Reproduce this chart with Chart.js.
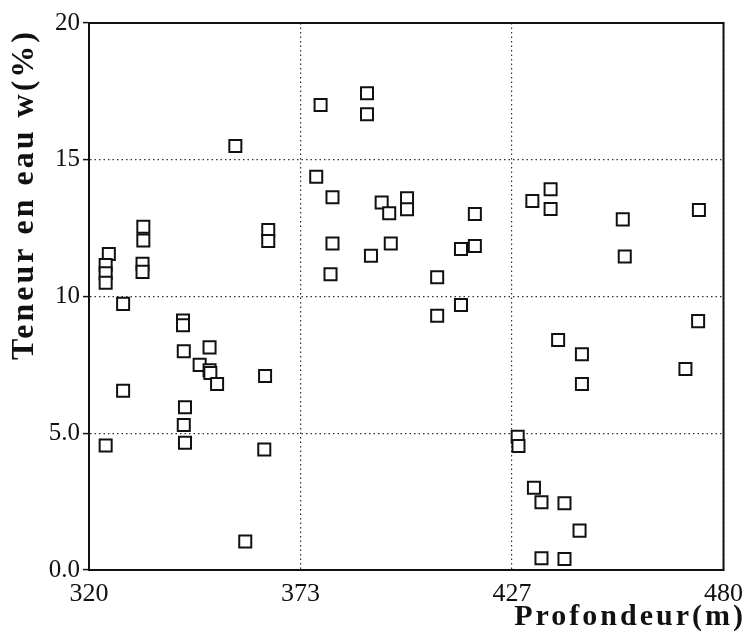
<!DOCTYPE html>
<html>
<head>
<meta charset="utf-8">
<script src="https://cdn.jsdelivr.net/npm/chart.js@4"></script>
<style>
  body { margin: 0; background: #fff; }
</style>
</head>
<body>
<canvas id="waterChart" width="752" height="638"></canvas>
<script>
// depth (m) and water content (%)
const depth = [
  325.0, 324.2, 324.2, 324.2, 324.2, 328.6, 328.6, 333.7, 333.7, 333.5,
  333.5, 343.7, 343.7, 343.9, 350.4, 347.9, 350.4, 350.6, 352.3, 344.2,
  343.9, 344.2, 364.4, 364.2, 359.4, 356.9, 365.2, 365.2,
  378.4, 390.1, 390.1, 377.3, 381.4, 381.4, 393.8, 395.7, 400.2, 400.2,
  417.3, 417.3, 396.1, 391.1, 413.8, 413.8, 380.9, 407.8, 407.8,
  436.4, 436.4, 431.8, 454.6, 455.1, 473.8, 473.6, 470.4, 438.3, 444.3,
  444.3, 428.1, 428.3, 432.2, 434.1, 434.1, 439.9, 439.9, 443.7
];
const water = [
  11.55, 11.15, 10.85, 10.5, 4.55, 9.73, 6.55, 12.55, 12.05, 11.2,
  10.9, 9.12, 8.95, 8.0, 8.14, 7.5, 7.3, 7.2, 6.8, 5.95,
  5.3, 4.65, 7.09, 4.41, 1.04, 15.5, 12.43, 12.03,
  17.0, 17.43, 16.66, 14.38, 13.63, 11.94, 13.44, 13.04, 13.59, 13.19,
  13.02, 11.85, 11.94, 11.49, 11.74, 9.69, 10.81, 10.7, 9.3,
  13.92, 13.2, 13.49, 12.82, 11.46, 13.16, 9.1, 7.35, 8.41, 7.89,
  6.8, 4.87, 4.53, 3.01, 2.48, 0.43, 2.44, 0.4, 1.44
];

const xTickValues = [320, 1120 / 3, 1280 / 3, 480];
const xTickLabels = ['320', '373', '427', '480'];
const yTickLabels = ['0.0', '5.0', '10', '15', '20'];

const points = depth.map((d, i) => ({ x: d, y: water[i] }));

// frame and axis titles, drawn with letter spacing like the print
const framePlugin = {
  id: 'frame',
  afterDraw(chart) {
    const { ctx, chartArea: a } = chart;
    ctx.save();
    ctx.strokeStyle = '#111';
    ctx.lineWidth = 2;
    ctx.strokeRect(a.left, a.top, a.right - a.left, a.bottom - a.top);

    ctx.fillStyle = '#111';
    ctx.font = 'bold 30px "Liberation Serif", "DejaVu Serif", serif';
    ctx.letterSpacing = '3px';
    ctx.textAlign = 'right';
    ctx.textBaseline = 'alphabetic';
    ctx.fillText('Profondeur(m)', 746, 625);

    ctx.translate(33, 29);
    ctx.rotate(-Math.PI / 2);
    ctx.font = 'bold 32px "Liberation Serif", "DejaVu Serif", serif';
    ctx.letterSpacing = '3px';
    ctx.textAlign = 'right';
    ctx.fillText('Teneur en eau w(%)', 0, 0);
    ctx.restore();
  }
};

const ctx = document.getElementById('waterChart').getContext('2d');
const waterChart = new Chart(ctx, {
  type: 'scatter',
  data: {
    datasets: [{
      label: 'Teneur en eau',
      data: points,
      pointStyle: 'rect',
      pointRadius: 8.5,
      pointHoverRadius: 8.5,
      borderColor: '#111',
      backgroundColor: '#fff',
      borderWidth: 2
    }]
  },
  options: {
    responsive: false,
    animation: false,
    layout: { padding: { top: 23, right: 22, left: 0, bottom: 0 } },
    plugins: {
      legend: { display: false },
      tooltip: { enabled: false }
    },
    scales: {
      x: {
        type: 'linear',
        min: 320,
        max: 480,
        afterBuildTicks: (axis) => {
          axis.ticks = xTickValues.map(v => ({ value: v }));
        },
        afterFit: (axis) => { axis.height = 68; },
        grid: {
          color: '#333',
          lineWidth: 1.2,
          drawTicks: false
        },
        border: { display: true, color: '#111', width: 2, dash: [1.5, 3] },
        ticks: {
          padding: 9,
          color: '#111',
          font: { family: '"Liberation Serif", serif', size: 26 },
          maxRotation: 0,
          callback: (v, i) => xTickLabels[i]
        }
      },
      y: {
        min: 0,
        max: 20,
        afterFit: (axis) => { axis.width = 89; },
        grid: {
          color: '#333',
          lineWidth: 1.2,
          tickLength: 6,
          tickBorderDash: [],
          tickColor: '#111',
          tickWidth: 1.5
        },
        border: { display: true, color: '#111', width: 2, dash: [1.5, 3] },
        ticks: {
          stepSize: 5,
          padding: 3,
          color: '#111',
          font: { family: '"Liberation Serif", serif', size: 25 },
          callback: (v, i) => yTickLabels[i]
        }
      }
    }
  },
  plugins: [framePlugin]
});
</script>
</body>
</html>
